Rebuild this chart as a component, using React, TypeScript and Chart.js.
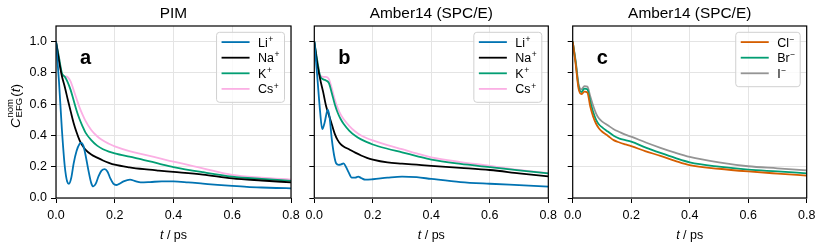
import React, { useEffect, useRef } from "react";
import { Chart, registerables } from "chart.js";

Chart.register(...registerables);

// ---------------- data ----------------
const timeGrid = [0, 0.01, 0.02, 0.03, 0.04, 0.05, 0.06, 0.07, 0.08, 0.09, 0.1, 0.12, 0.14, 0.16, 0.18, 0.2, 0.25, 0.3, 0.35, 0.4, 0.5, 0.6, 0.7, 0.8];

// panel a (PIM)
const liATime = [0, 0.01, 0.02, 0.03, 0.038, 0.044, 0.052, 0.06, 0.07, 0.08, 0.086, 0.093, 0.1, 0.11, 0.12, 0.127, 0.135, 0.145, 0.155, 0.166, 0.175, 0.185, 0.195, 0.205, 0.215, 0.23, 0.252, 0.27, 0.288, 0.32, 0.36, 0.4, 0.45, 0.5, 0.55, 0.6, 0.65, 0.7, 0.75, 0.8];
const liA = [1.0, 0.75, 0.44, 0.2, 0.105, 0.091, 0.13, 0.22, 0.3, 0.345, 0.352, 0.335, 0.28, 0.18, 0.095, 0.074, 0.09, 0.14, 0.175, 0.185, 0.17, 0.125, 0.092, 0.083, 0.09, 0.106, 0.117, 0.108, 0.1, 0.102, 0.106, 0.106, 0.1, 0.092, 0.084, 0.077, 0.071, 0.067, 0.064, 0.062];
const naA = [1.0, 0.88, 0.78, 0.71, 0.63, 0.554, 0.48, 0.42, 0.37, 0.335, 0.31, 0.278, 0.258, 0.24, 0.225, 0.213, 0.196, 0.184, 0.175, 0.167, 0.15, 0.126, 0.112, 0.1];
const kA = [1.0, 0.9, 0.8, 0.775, 0.74, 0.69, 0.625, 0.56, 0.505, 0.46, 0.42, 0.37, 0.335, 0.312, 0.297, 0.286, 0.264, 0.243, 0.22, 0.198, 0.165, 0.137, 0.122, 0.11];
const csA = [1.0, 0.9, 0.79, 0.778, 0.772, 0.745, 0.69, 0.635, 0.58, 0.535, 0.495, 0.435, 0.395, 0.367, 0.347, 0.33, 0.3, 0.278, 0.255, 0.232, 0.19, 0.148, 0.13, 0.118];

// panel b (Amber14, cations)
const liBTime = [0, 0.01, 0.02, 0.027, 0.035, 0.046, 0.052, 0.06, 0.068, 0.075, 0.083, 0.092, 0.1, 0.108, 0.117, 0.128, 0.14, 0.15, 0.16, 0.175, 0.2, 0.25, 0.3, 0.35, 0.4, 0.5, 0.6, 0.7, 0.8];
const liB = [1.0, 0.78, 0.55, 0.44, 0.48, 0.565, 0.52, 0.373, 0.27, 0.22, 0.212, 0.215, 0.222, 0.2, 0.165, 0.13, 0.13, 0.137, 0.128, 0.117, 0.12, 0.13, 0.137, 0.133, 0.122, 0.102, 0.091, 0.082, 0.073];
const naB = [1.0, 0.86, 0.76, 0.68, 0.59, 0.53, 0.47, 0.41, 0.37, 0.345, 0.33, 0.31, 0.29, 0.272, 0.257, 0.246, 0.228, 0.22, 0.213, 0.206, 0.193, 0.179, 0.158, 0.138];
const kB = [1.0, 0.88, 0.78, 0.76, 0.752, 0.735, 0.67, 0.6, 0.545, 0.505, 0.475, 0.43, 0.398, 0.375, 0.357, 0.342, 0.315, 0.292, 0.268, 0.245, 0.218, 0.198, 0.176, 0.157];
const csB = [1.0, 0.88, 0.785, 0.775, 0.775, 0.76, 0.7, 0.63, 0.575, 0.535, 0.505, 0.46, 0.425, 0.4, 0.382, 0.368, 0.338, 0.312, 0.285, 0.26, 0.23, 0.206, 0.18, 0.159];

// panel c (Amber14, anions)
const clC = [1.0, 0.86, 0.7, 0.665, 0.68, 0.675, 0.585, 0.52, 0.475, 0.445, 0.425, 0.398, 0.37, 0.355, 0.343, 0.332, 0.298, 0.27, 0.238, 0.21, 0.187, 0.17, 0.156, 0.143];
const brC = [1.0, 0.87, 0.715, 0.678, 0.7, 0.695, 0.618, 0.55, 0.5, 0.47, 0.453, 0.425, 0.398, 0.38, 0.37, 0.36, 0.322, 0.288, 0.256, 0.228, 0.2, 0.181, 0.17, 0.158];
const iC = [1.0, 0.88, 0.73, 0.695, 0.715, 0.712, 0.65, 0.59, 0.54, 0.508, 0.49, 0.465, 0.44, 0.422, 0.405, 0.392, 0.355, 0.321, 0.29, 0.263, 0.228, 0.203, 0.19, 0.177];

const xTickValues = [0, 0.2, 0.4, 0.6, 0.8];
const yTickValues = [0, 0.2, 0.4, 0.6, 0.8, 1.0];
const panelTitles = ["PIM", "Amber14 (SPC/E)", "Amber14 (SPC/E)"];
const panelLetters = ["a", "b", "c"];
const cationNames = ["Li", "Na", "K", "Cs"];
const anionNames = ["Cl", "Br", "I"];

// ---------------- style ----------------
const FAM = '"Liberation Sans", Arial, Helvetica, sans-serif';
const C_BLUE = "#0173b2";
const C_BLACK = "#000000";
const C_GREEN = "#029e73";
const C_PINK = "#fbafe4";
const C_ORANGE = "#d55e00";
const C_GRAY = "#949494";
const GRID = "#e4e4e4";
const LW = 1.8;

type Series = { name: string; sup: string; color: string; t: number[]; v: number[] };
type Panel = {
  left: number;
  width: number;
  padLeft: number;
  padRight: number;
  yWidth: number;
  showYLabels: boolean;
  title: string;
  letter: string;
  series: Series[];
};

const panels: Panel[] = [
  {
    left: 0, width: 300, padLeft: 0, padRight: 9, yWidth: 56, showYLabels: true,
    title: panelTitles[0], letter: panelLetters[0],
    series: [
      { name: cationNames[0], sup: "+", color: C_BLUE, t: liATime, v: liA },
      { name: cationNames[1], sup: "+", color: C_BLACK, t: timeGrid, v: naA },
      { name: cationNames[2], sup: "+", color: C_GREEN, t: timeGrid, v: kA },
      { name: cationNames[3], sup: "+", color: C_PINK, t: timeGrid, v: csA },
    ],
  },
  {
    left: 300, width: 258, padLeft: 4.3, padRight: 9.7, yWidth: 10, showYLabels: false,
    title: panelTitles[1], letter: panelLetters[1],
    series: [
      { name: cationNames[0], sup: "+", color: C_BLUE, t: liBTime, v: liB },
      { name: cationNames[1], sup: "+", color: C_BLACK, t: timeGrid, v: naB },
      { name: cationNames[2], sup: "+", color: C_GREEN, t: timeGrid, v: kB },
      { name: cationNames[3], sup: "+", color: C_PINK, t: timeGrid, v: csB },
    ],
  },
  {
    left: 558, width: 264, padLeft: 4.7, padRight: 15.3, yWidth: 10, showYLabels: false,
    title: panelTitles[2], letter: panelLetters[2],
    series: [
      { name: anionNames[0], sup: "\u2212", color: C_ORANGE, t: timeGrid, v: clC },
      { name: anionNames[1], sup: "\u2212", color: C_GREEN, t: timeGrid, v: brC },
      { name: anionNames[2], sup: "\u2212", color: C_GRAY, t: timeGrid, v: iC },
    ],
  },
];

function makeDecor(p: Panel) {
  return {
    id: "decor",
    afterDatasetsDraw(chart: any) {
      const ctx: CanvasRenderingContext2D = chart.ctx;
      const ca = chart.chartArea;
      ctx.save();

      // frame
      ctx.strokeStyle = "#000";
      ctx.lineWidth = 1.2;
      ctx.strokeRect(ca.left, ca.top, ca.right - ca.left, ca.bottom - ca.top);

      // title
      ctx.fillStyle = "#000";
      ctx.textAlign = "center";
      ctx.textBaseline = "alphabetic";
      ctx.font = `15.4px ${FAM}`;
      ctx.fillText(p.title, (ca.left + ca.right) / 2, 17.5);

      // panel letter
      ctx.textAlign = "left";
      ctx.font = `bold 20px ${FAM}`;
      ctx.fillText(p.letter, ca.left + 24, ca.top + 38);

      // x axis title: t / ps
      {
        ctx.font = `italic 12.5px ${FAM}`;
        const wT = ctx.measureText("t").width;
        ctx.font = `12.5px ${FAM}`;
        const rest = " / ps";
        const wR = ctx.measureText(rest).width;
        const x0 = (ca.left + ca.right) / 2 - (wT + wR) / 2;
        const yb = 238.5;
        ctx.font = `italic 12.5px ${FAM}`;
        ctx.fillText("t", x0, yb);
        ctx.font = `12.5px ${FAM}`;
        ctx.fillText(rest, x0 + wT, yb);
      }

      // y axis title (only first panel)
      if (p.showYLabels) {
        const big = 13.5, small = 9.5;
        ctx.font = `italic ${big}px ${FAM}`;
        const wC = ctx.measureText("C").width;
        ctx.font = `${small}px ${FAM}`;
        const wNom = ctx.measureText("nom").width;
        const wEfg = ctx.measureText("EFG").width;
        const wScr = Math.max(wNom, wEfg);
        ctx.font = `${big}px ${FAM}`;
        const wOpen = ctx.measureText("(").width;
        const wClose = ctx.measureText(")").width;
        ctx.font = `italic ${big}px ${FAM}`;
        const wt = ctx.measureText("t").width;
        const total = wC + 0.8 + wScr + 1.2 + wOpen + wt + wClose;
        const cy = 106;
        ctx.translate(19.5, cy + total / 2);
        ctx.rotate(-Math.PI / 2);
        let x = 0;
        ctx.font = `italic ${big}px ${FAM}`;
        ctx.fillText("C", x, 0);
        x += wC + 0.8;
        ctx.font = `${small}px ${FAM}`;
        ctx.fillText("nom", x, -7);
        ctx.fillText("EFG", x, 2.5);
        x += wScr + 1.2;
        ctx.font = `${big}px ${FAM}`;
        ctx.fillText("(", x, 0);
        x += wOpen;
        ctx.font = `italic ${big}px ${FAM}`;
        ctx.fillText("t", x, 0);
        x += wt;
        ctx.font = `${big}px ${FAM}`;
        ctx.fillText(")", x, 0);
        ctx.setTransform(1, 0, 0, 1, 0, 0);
      }

      // legend
      {
        const fs = 12.5, sfs = 8.5;
        const widths = p.series.map((s) => {
          ctx.font = `${fs}px ${FAM}`;
          const a = ctx.measureText(s.name).width;
          ctx.font = `${sfs}px ${FAM}`;
          const b = ctx.measureText(s.sup).width;
          return a + 0.6 + b;
        });
        const maxW = Math.max(...widths);
        const padX = 5, lineLen = 28, gap = 8.4;
        const w = padX + lineLen + gap + maxW + 5;
        const rowH = 15.6;
        const h = 7.6 + rowH * p.series.length;
        const right = ca.right - 6.5;
        const top = ca.top + 6.3;
        const left = right - w;
        ctx.beginPath();
        if ((ctx as any).roundRect) (ctx as any).roundRect(left, top, w, h, 3);
        else ctx.rect(left, top, w, h);
        ctx.fillStyle = "rgba(255,255,255,0.8)";
        ctx.fill();
        ctx.strokeStyle = "#d0d0d0";
        ctx.lineWidth = 1;
        ctx.stroke();
        p.series.forEach((s, i) => {
          const cy = top + 9.8 + i * rowH;
          ctx.beginPath();
          ctx.strokeStyle = s.color;
          ctx.lineWidth = LW;
          ctx.moveTo(left + padX, cy);
          ctx.lineTo(left + padX + lineLen, cy);
          ctx.stroke();
          ctx.fillStyle = "#000";
          ctx.textAlign = "left";
          ctx.textBaseline = "alphabetic";
          const tx = left + padX + lineLen + gap;
          ctx.font = `${fs}px ${FAM}`;
          ctx.fillText(s.name, tx, cy + 4.5);
          const nw = ctx.measureText(s.name).width;
          ctx.font = `${sfs}px ${FAM}`;
          ctx.fillText(s.sup, tx + nw + 0.6, cy - 0.3);
        });
      }

      ctx.restore();
    },
  };
}

function makeConfig(p: Panel): any {
  return {
    type: "line",
    data: {
      datasets: p.series.map((s) => ({
        label: s.name + s.sup,
        data: s.t.map((t, i) => ({ x: t, y: s.v[i] })),
        borderColor: s.color,
        backgroundColor: s.color,
        borderWidth: LW,
        pointRadius: 0,
        fill: false,
        cubicInterpolationMode: "monotone",
        borderJoinStyle: "round",
      })),
    },
    options: {
      animation: false,
      responsive: false,
      events: [],
      layout: { padding: { left: p.padLeft, right: p.padRight, top: 26, bottom: 0 } },
      plugins: {
        legend: { display: false },
        tooltip: { enabled: false },
        title: { display: false },
      },
      scales: {
        x: {
          type: "linear",
          min: 0,
          max: 0.8,
          afterBuildTicks: (s: any) => {
            s.ticks = xTickValues.map((v) => ({ value: v }));
          },
          ticks: {
            callback: (v: any) => Number(v).toFixed(1),
            font: { family: FAM, size: 12.5 },
            color: "#000",
            padding: 5,
            maxRotation: 0,
            autoSkip: false,
          },
          grid: { color: GRID, tickColor: "#000", tickLength: 5, lineWidth: 1 },
          border: { display: false },
          afterFit: (s: any) => {
            s.height = 49;
            s.paddingLeft = 0;
            s.paddingRight = 0;
          },
        },
        y: {
          type: "linear",
          min: 0,
          max: 1.1,
          afterBuildTicks: (s: any) => {
            s.ticks = yTickValues.map((v) => ({ value: v }));
          },
          ticks: {
            callback: (v: any) => (p.showYLabels ? Number(v).toFixed(1) : ""),
            font: { family: FAM, size: 12.5 },
            color: "#000",
            padding: 4,
            autoSkip: false,
          },
          grid: { color: GRID, tickColor: "#000", tickLength: 5, lineWidth: 1 },
          border: { display: false },
          afterFit: (s: any) => {
            s.width = p.yWidth;
            s.paddingTop = 0;
            s.paddingBottom = 0;
          },
        },
      },
    },
    plugins: [makeDecor(p)],
  };
}

function PanelChart({ p }: { p: Panel }) {
  const ref = useRef<HTMLCanvasElement | null>(null);
  useEffect(() => {
    if (!ref.current) return;
    const chart = new Chart(ref.current, makeConfig(p));
    return () => chart.destroy();
  }, [p]);
  return (
    <canvas
      ref={ref}
      width={p.width}
      height={247}
      style={{ position: "absolute", left: p.left, top: 0, width: p.width, height: 247 }}
    />
  );
}

export default function App() {
  return (
    <div style={{ position: "fixed", left: 0, top: 0, width: 822, height: 247, background: "#fff" }}>
      {panels.map((p, i) => (
        <PanelChart key={i} p={p} />
      ))}
    </div>
  );
}
